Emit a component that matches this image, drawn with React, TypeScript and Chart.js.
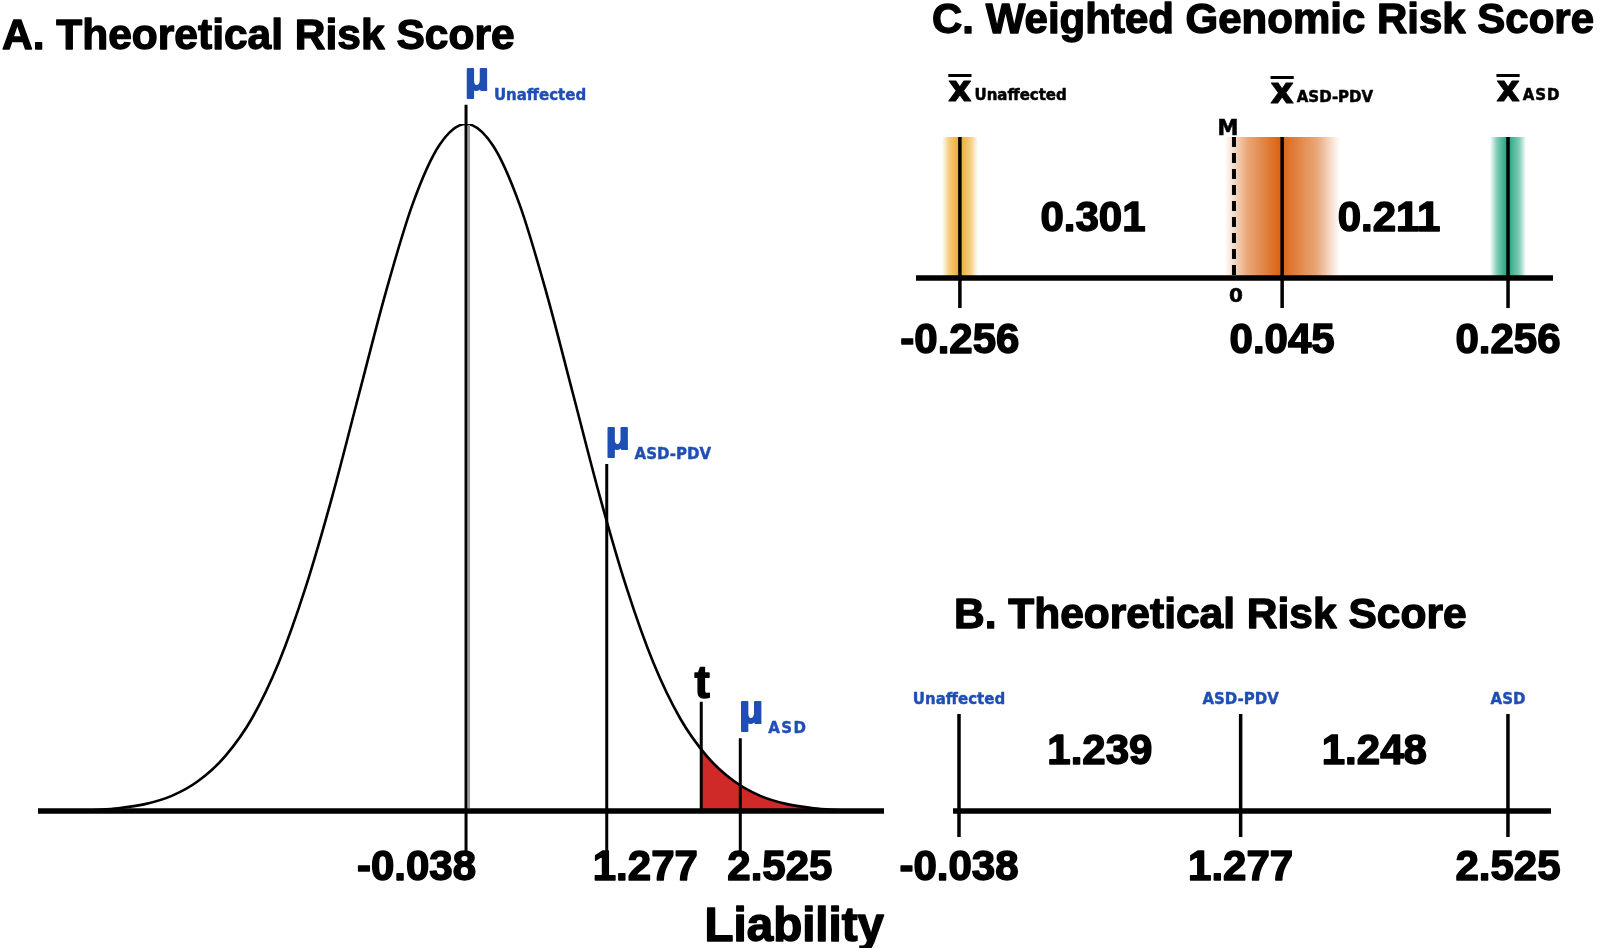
import React, { useEffect, useRef } from 'react';
import { Chart, registerables } from 'chart.js';

Chart.register(...registerables);

// ---------------- data ----------------
// Panel A – liability distribution (heights relative to the peak)
const curveLiability = [
  -3.538, -3.288, -3.038, -2.788, -2.538, -2.288, -2.038, -1.788, -1.538, -1.288,
  -1.038, -0.788, -0.538, -0.288, -0.038, 0.212, 0.462, 0.712, 0.962, 1.212,
  1.462, 1.712, 1.962, 2.212, 2.462, 2.712, 2.962, 3.212, 3.462,
];
const curveHeight = [
  0.001, 0.004, 0.01, 0.022, 0.044, 0.08, 0.135, 0.216, 0.325, 0.458,
  0.607, 0.755, 0.883, 0.969, 1.0, 0.969, 0.883, 0.755, 0.607, 0.458,
  0.325, 0.216, 0.135, 0.08, 0.044, 0.022, 0.01, 0.004, 0.001,
];
const groupNames = ['Unaffected', 'ASD-PDV', 'ASD'];
const liabilityMeans = [-0.038, 1.277, 2.525];
const liabilityTickLabels = ['-0.038', '1.277', '2.525'];
const thresholdT = 2.16;
const thresholdHeight = 0.089;

// Panel C – weighted genomic risk score
const grsMeans = [-0.256, 0.045, 0.256];
const grsSpread = [0.017, 0.054, 0.017];
const grsMedian = 0;
const grsTickLabels = ['-0.256', '0.045', '0.256'];
const grsGapLabels = ['0.301', '0.211'];

// Panel B – theoretical risk score on a line
const riskMeans = [-0.038, 1.277, 2.525];
const riskTickLabels = ['-0.038', '1.277', '2.525'];
const riskGapLabels = ['1.239', '1.248'];

// ---------------- styles ----------------
const SANS = '"Liberation Sans", Arial, sans-serif';
const HEAVY = '"DejaVu Sans", "Liberation Sans", sans-serif';
const BLUE = '#1f4eb4';
const RED = '#cf2a27';
const BAND_COLORS = [
  [234, 168, 32],
  [216, 95, 11],
  [20, 160, 120],
];

const A_STYLE = {
  meanTop: [1.028, 0.505, 0.106],
  tTop: 0.159,
  lineBottom: -0.064,
  labelAlign: ['right', 'left', 'left'] as CanvasTextAlign[],
  labelDx: [10, -14, -13],
};
const C_GAP_DX = [-28, -6];

// ---------------- helpers ----------------
function txt(
  ctx: CanvasRenderingContext2D,
  s: string,
  x: number,
  y: number,
  font: string,
  color: string,
  align: CanvasTextAlign = 'left',
  stroke = 0,
  spacing = 0
) {
  ctx.save();
  ctx.font = font;
  ctx.fillStyle = color;
  ctx.textAlign = align;
  ctx.textBaseline = 'alphabetic';
  (ctx as any).letterSpacing = spacing + 'px';
  ctx.fillText(s, x, y);
  if (stroke > 0) {
    ctx.lineWidth = stroke;
    ctx.strokeStyle = color;
    ctx.lineJoin = 'round';
    ctx.strokeText(s, x, y);
  }
  ctx.restore();
}

function vline(x: number, y0: number, y1: number, width: number) {
  return {
    data: [
      { x, y: y0 },
      { x, y: y1 },
    ],
    borderColor: '#000',
    borderWidth: width,
    borderCapStyle: 'butt',
    pointRadius: 0,
    fill: false,
    clip: false as any,
  };
}

function hline(x0: number, x1: number, width: number) {
  return {
    data: [
      { x: x0, y: 0 },
      { x: x1, y: 0 },
    ],
    borderColor: '#000',
    borderWidth: width,
    borderCapStyle: 'butt',
    pointRadius: 0,
    fill: false,
    clip: false as any,
  };
}

function baseOptions(pad: any, xmin: number, xmax: number) {
  return {
    responsive: false,
    animation: false,
    devicePixelRatio: 1,
    events: [],
    layout: { padding: pad },
    scales: {
      x: { type: 'linear', min: xmin, max: xmax, display: false },
      y: { type: 'linear', min: 0, max: 1, display: false },
    },
    plugins: { legend: { display: false }, tooltip: { enabled: false } },
    elements: { point: { radius: 0 } },
  } as any;
}

function ChartBox(props: { left: number; top: number; width: number; height: number; make: () => any }) {
  const ref = useRef<HTMLCanvasElement>(null);
  useEffect(() => {
    const chart = new Chart(ref.current as HTMLCanvasElement, props.make());
    return () => chart.destroy();
  }, []);
  return (
    <canvas
      ref={ref}
      width={props.width}
      height={props.height}
      style={{ position: 'absolute', left: props.left, top: props.top, width: props.width, height: props.height }}
    />
  );
}

// ---------------- Panel A ----------------
function makeA() {
  const xmin = -4.038;
  const xmax = 3.868;
  const curve = curveLiability.map((x, i) => ({ x, y: curveHeight[i] }));
  const tail = [{ x: thresholdT, y: thresholdHeight }].concat(curve.filter((p) => p.x > thresholdT));
  const datasets: any[] = [
    {
      data: curve,
      borderColor: '#000',
      borderWidth: 2.6,
      cubicInterpolationMode: 'monotone',
      pointRadius: 0,
      fill: false,
    },
    hline(xmin, xmax, 5.5),
    ...liabilityMeans.map((m, i) => vline(m, A_STYLE.meanTop[i], A_STYLE.lineBottom, 3)),
    vline(thresholdT, A_STYLE.tTop, 0, 3),
    {
      data: tail,
      borderWidth: 0,
      borderColor: RED,
      backgroundColor: RED,
      cubicInterpolationMode: 'monotone',
      pointRadius: 0,
      fill: 'origin',
    },
  ];

  const plugin = {
    id: 'panelA',
    afterDraw(chart: any) {
      const { ctx } = chart;
      const x = chart.scales.x;
      const y = chart.scales.y;
      // gray companion of the Unaffected mean line
      ctx.save();
      ctx.strokeStyle = '#9a9a9a';
      ctx.lineWidth = 2;
      const ux = x.getPixelForValue(liabilityMeans[0]) + 3;
      ctx.beginPath();
      ctx.moveTo(ux, y.getPixelForValue(1) + 1);
      ctx.lineTo(ux, y.getPixelForValue(0) - 3);
      ctx.stroke();
      ctx.restore();

      txt(ctx, 'A. Theoretical Risk Score', 2, 49, `bold 42.5px ${SANS}`, '#000', 'left', 1.3);

      liabilityMeans.forEach((m, i) => {
        const lx = x.getPixelForValue(m);
        const ty = y.getPixelForValue(A_STYLE.meanTop[i]);
        ctx.save();
        ctx.font = `bold 39px ${SANS}`;
        const w = ctx.measureText('\u03bc').width;
        ctx.restore();
        txt(ctx, '\u03bc', lx - 1, ty - 15, `bold 39px ${SANS}`, BLUE, 'left', 2);
        txt(ctx, groupNames[i], lx + w + 4, ty - 5, `bold 15px ${HEAVY}`, BLUE, 'left', 0.4, i === 2 ? 1.5 : 0);
        txt(
          ctx,
          liabilityTickLabels[i],
          lx + A_STYLE.labelDx[i],
          y.getPixelForValue(0) + 69,
          `bold 42px ${SANS}`,
          '#000',
          A_STYLE.labelAlign[i],
          1.5
        );
      });
      const tx = x.getPixelForValue(thresholdT);
      txt(ctx, 't', tx + 1, y.getPixelForValue(A_STYLE.tTop) - 4, `bold 46px ${SANS}`, '#000', 'center', 1.5);
      txt(ctx, 'Liability', x.right, 941, `bold 47.5px ${SANS}`, '#000', 'right', 1.5);
    },
  };

  return {
    type: 'line',
    data: { datasets },
    options: baseOptions({ left: 38, right: 16, top: 124, bottom: 137 }, xmin, xmax),
    plugins: [plugin],
  };
}

// ---------------- Panel C ----------------
function makeC() {
  const xmin = -0.297;
  const xmax = 0.298;
  const datasets: any[] = [hline(xmin, xmax, 5.5), ...grsMeans.map((m) => vline(m, 1, -0.213, 3.5))];
  const plugin = {
    id: 'panelC',
    beforeDatasetsDraw(chart: any) {
      const { ctx } = chart;
      const x = chart.scales.x;
      const y = chart.scales.y;
      const top = y.getPixelForValue(1);
      const bot = y.getPixelForValue(0);
      grsMeans.forEach((m, i) => {
        const [r, g, b] = BAND_COLORS[i];
        const cx = x.getPixelForValue(m);
        const l = x.getPixelForValue(m - grsSpread[i]);
        const rr = x.getPixelForValue(m + grsSpread[i]);
        const gl = ctx.createLinearGradient(l, 0, cx, 0);
        gl.addColorStop(0, `rgba(${r},${g},${b},0)`);
        gl.addColorStop(0.4, `rgba(${r},${g},${b},0.55)`);
        gl.addColorStop(1, `rgba(${r},${g},${b},1)`);
        ctx.fillStyle = gl;
        ctx.fillRect(l, top, cx - l - 1, bot - top);
        const gr = ctx.createLinearGradient(cx, 0, rr, 0);
        gr.addColorStop(0, `rgba(${r},${g},${b},0.95)`);
        gr.addColorStop(0.6, `rgba(${r},${g},${b},0.55)`);
        gr.addColorStop(1, `rgba(${r},${g},${b},0)`);
        ctx.fillStyle = gr;
        ctx.fillRect(cx + 1, top, rr - cx - 1, bot - top);
      });
      // dashed median line
      const mx = x.getPixelForValue(grsMedian);
      ctx.save();
      ctx.strokeStyle = '#000';
      ctx.lineWidth = 4;
      ctx.setLineDash([10, 6]);
      ctx.beginPath();
      ctx.moveTo(mx, top);
      ctx.lineTo(mx, bot);
      ctx.stroke();
      ctx.restore();
    },
    afterDraw(chart: any) {
      const { ctx } = chart;
      const x = chart.scales.x;
      const y = chart.scales.y;
      txt(ctx, 'C. Weighted Genomic Risk Score', 32, 33, `bold 42px ${SANS}`, '#000', 'left', 1.3);
      const base = y.getPixelForValue(0);
      grsMeans.forEach((m, i) => {
        const lx = x.getPixelForValue(m);
        const by = i === 1 ? 103 : 101;
        ctx.save();
        ctx.font = `bold 36px ${HEAVY}`;
        const w = ctx.measureText('x').width;
        ctx.restore();
        txt(ctx, 'x', lx, by, `bold 36px ${HEAVY}`, '#000', 'center', 1);
        ctx.fillStyle = '#000';
        ctx.fillRect(lx - w / 2, by - 27, w, 3);
        txt(ctx, groupNames[i], lx + w / 2 + 3, by - 1, `bold 15px ${HEAVY}`, '#000', 'left', 0.5, i === 2 ? 1 : 0);
        txt(ctx, grsTickLabels[i], lx, base + 75, `bold 42px ${SANS}`, '#000', 'center', 1.5);
      });
      for (let i = 0; i < 2; i++) {
        const mid = (grsMeans[i] + grsMeans[i + 1]) / 2;
        txt(ctx, grsGapLabels[i], x.getPixelForValue(mid) + C_GAP_DX[i], base - 47, `bold 42px ${SANS}`, '#000', 'center', 1.5);
      }
      const mx = x.getPixelForValue(grsMedian);
      txt(ctx, 'M', mx - 6, y.getPixelForValue(1) - 2, `bold 21px ${HEAVY}`, '#000', 'center', 0.6);
      txt(ctx, '0', mx + 2, base + 24, `bold 20px ${HEAVY}`, '#000', 'center', 0.6);
    },
  };
  return {
    type: 'line',
    data: { datasets },
    options: baseOptions({ left: 16, right: 47, top: 137, bottom: 122 }, xmin, xmax),
    plugins: [plugin],
  };
}

// ---------------- Panel B ----------------
function makeB() {
  const xmin = -0.066;
  const xmax = 2.726;
  const datasets: any[] = [hline(xmin, xmax, 5.5), ...riskMeans.map((m) => vline(m, 1, -0.268, 3.5))];
  const plugin = {
    id: 'panelB',
    afterDraw(chart: any) {
      const { ctx } = chart;
      const x = chart.scales.x;
      const y = chart.scales.y;
      txt(ctx, 'B. Theoretical Risk Score', 54, 228, `bold 42.5px ${SANS}`, '#000', 'left', 1.3);
      const base = y.getPixelForValue(0);
      riskMeans.forEach((m, i) => {
        const lx = x.getPixelForValue(m);
        txt(ctx, groupNames[i], lx, y.getPixelForValue(1) - 10, `bold 15px ${HEAVY}`, BLUE, 'center', 0.4);
        txt(ctx, riskTickLabels[i], lx, base + 69, `bold 42px ${SANS}`, '#000', 'center', 1.5);
      });
      for (let i = 0; i < 2; i++) {
        const mid = (riskMeans[i] + riskMeans[i + 1]) / 2;
        txt(ctx, riskGapLabels[i], x.getPixelForValue(mid), base - 47, `bold 42px ${SANS}`, '#000', 'center', 1.5);
      }
    },
  };
  return {
    type: 'line',
    data: { datasets },
    options: baseOptions({ left: 53, right: 49, top: 314, bottom: 137 }, xmin, xmax),
    plugins: [plugin],
  };
}

export default function App() {
  return (
    <div style={{ position: 'absolute', left: 0, top: 0, width: 1600, height: 948, background: '#fff', overflow: 'hidden' }}>
      <ChartBox left={0} top={0} width={900} height={948} make={makeA} />
      <ChartBox left={900} top={0} width={700} height={400} make={makeC} />
      <ChartBox left={900} top={400} width={700} height={548} make={makeB} />
    </div>
  );
}
